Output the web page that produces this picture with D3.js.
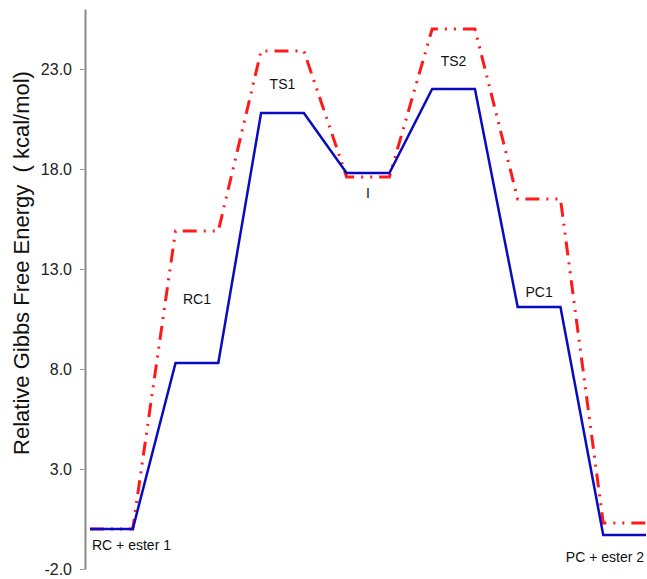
<!DOCTYPE html>
<html lang="en">
<head>
<meta charset="utf-8">
<title>Relative Gibbs Free Energy Profile</title>
<style>
  body { margin: 0; background: #fff; }
  svg text { font-family: Arial, "Liberation Sans", sans-serif; }
</style>
</head>
<body>
<svg id="chart"></svg>
<script src="https://d3js.org/d3.v7.min.js"></script>
<script>
const width = 647;
const height = 579;

// stationary points along the reaction path
const stages = ["RC + ester 1", "RC1", "TS1", "I", "TS2", "PC1", "PC + ester 2"];
// energies, kcal/mol
const solidEnergies = [0.0, 8.3, 20.8, 17.8, 22.0, 11.1, -0.3];
const dashedEnergies = [0.0, 14.9, 23.9, 17.6, 25.0, 16.5, 0.3];
const yTicks = [-2, 3, 8, 13, 18, 23];

const svg = d3.select("#chart")
    .attr("width", width)
    .attr("height", height);

// each stage is one unit wide, followed by a one unit gap
const x = d3.scaleLinear()
    .domain([0, stages.length * 2 - 1])
    .range([90, 646]);

const y = d3.scaleLinear()
    .domain([-2, 26])
    .range([569, 9]);

const fmt = d3.format(".1f");

const yAxis = svg.append("g")
    .attr("transform", "translate(85,0)")
    .call(d3.axisLeft(y)
        .tickValues(yTicks)
        .tickFormat(d => fmt(d).replace("\u2212", "-"))
        .tickSize(5)
        .tickSizeOuter(0)
        .tickPadding(8));

yAxis.select(".domain").attr("stroke", "#8a8a8a").attr("stroke-width", 2);
yAxis.selectAll(".tick line").attr("stroke", "#9a9a9a").attr("stroke-width", 1);
yAxis.selectAll(".tick text")
    .attr("font-size", "16px")
    .attr("font-family", "Arial, 'Liberation Sans', sans-serif")
    .attr("fill", "#222");

svg.append("text")
    .attr("transform", `translate(29,${y(13.3)}) rotate(-90)`)
    .attr("text-anchor", "middle")
    .attr("font-size", "22px")
    .attr("fill", "#111")
    .text("Relative Gibbs Free Energy \u00a0( kcal/mol)");

// flat level for each stage, joined by straight ramps
const profile = values => values.flatMap((v, i) => [[i * 2, v], [i * 2 + 1, v]]);

const line = d3.line()
    .x(d => x(d[0]))
    .y(d => y(d[1]));

svg.append("path")
    .datum(profile(dashedEnergies))
    .attr("d", line)
    .attr("fill", "none")
    .attr("stroke", "#ff1a1a")
    .attr("stroke-width", 3)
    .attr("stroke-dasharray", "14,7,2,7,2,7");

svg.append("path")
    .datum(profile(solidEnergies))
    .attr("d", line)
    .attr("fill", "none")
    .attr("stroke", "#0a0ac0")
    .attr("stroke-width", 2.5)
    .attr("stroke-linejoin", "miter");

// stage names
const labels = svg.append("g")
    .attr("font-size", "14px")
    .attr("fill", "#111");

stages.forEach((name, i) => {
    const lo = Math.min(solidEnergies[i], dashedEnergies[i]);
    const hi = Math.max(solidEnergies[i], dashedEnergies[i]);
    let lx = x(i * 2 + 0.5), ly, anchor = "middle";
    if (i === 0) {
        lx = x(i * 2) + 2; ly = y(lo) + 21; anchor = "start";
    } else if (i === stages.length - 1) {
        lx = x(i * 2 + 1) - 2; ly = y(lo) + 27; anchor = "end";
    } else if (name === "I") {
        ly = y(lo) + 21;
    } else if (name === "PC1") {
        ly = y(solidEnergies[i]) - 10;
    } else {
        ly = (y(lo) + y(hi)) / 2 + 7;
    }
    labels.append("text")
        .attr("x", lx)
        .attr("y", ly)
        .attr("text-anchor", anchor)
        .text(name);
});
</script>
</body>
</html>
